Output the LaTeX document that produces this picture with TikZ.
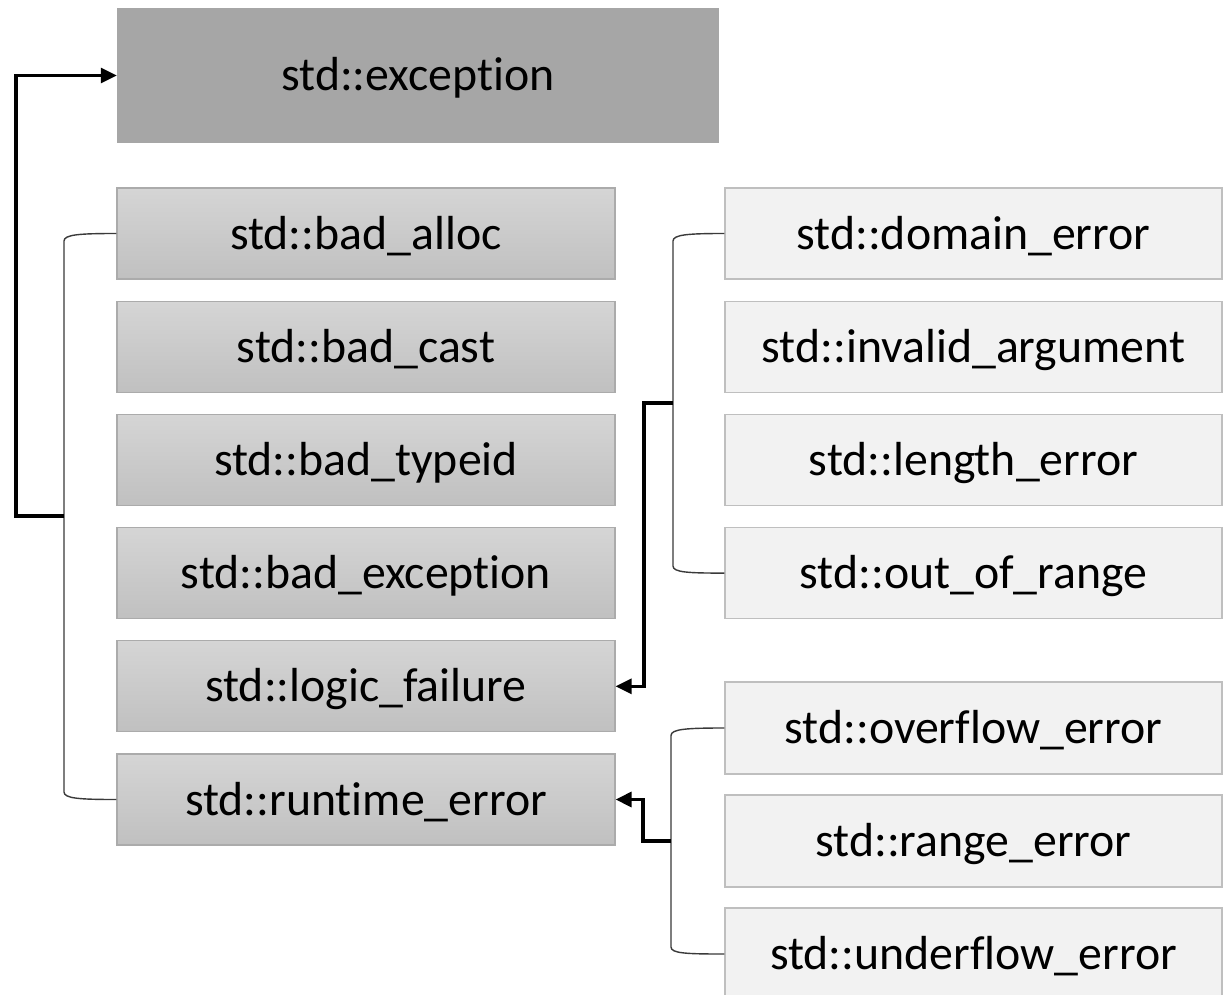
\documentclass[tikz,border=0pt]{standalone}
\usepackage{fontspec}
\setmainfont[RawFeature={-liga;-clig;-calt;-dlig}]{Carlito}
\usetikzlibrary{arrows.meta}
\definecolor{excfill}{HTML}{A6A6A6}
\definecolor{ltop}{HTML}{D5D5D5}
\definecolor{lbot}{HTML}{C0C0C0}
\definecolor{lborder}{HTML}{ABABAB}
\definecolor{rfill}{HTML}{F2F2F2}
\definecolor{rborder}{HTML}{BFBFBF}
\definecolor{brkcol}{HTML}{3A3A3A}
\newcommand{\nolig}{\kern0pt}
\tikzset{
  basebox/.style={rectangle, inner sep=0pt, text height=40pt, text depth=9pt,
    font=\fontsize{47.8}{57}\selectfont, text=black},
  excbox/.style={basebox, fill=excfill, minimum width=602pt, minimum height=135pt},
  lbox/.style={basebox, draw=lborder, line width=1.2pt, top color=ltop, bottom color=lbot,
    minimum width=498pt, minimum height=91pt},
  rbox/.style={basebox, draw=rborder, line width=1.2pt, fill=rfill,
    minimum width=497pt, minimum height=91pt},
  brk/.style={draw=brkcol, line width=1.4pt},
  conn/.style={draw=black, line width=3.1pt, -{Triangle[length=16pt,width=15pt]}},
}
\begin{document}
\begin{tikzpicture}[x=1pt,y=-1pt]
\useasboundingbox (0,0) rectangle (1226,995);
\clip (0,0) rectangle (1226,995);
\fill[white] (0,0) rectangle (1226,995);

\node[excbox] (exc) at (418,75.5) {std::except\nolig ion};

\node[lbox] (alloc)   at (366,233.5) {std::bad\_alloc};
\node[lbox] (cast)    at (366,346.7) {std::bad\_cast};
\node[lbox] (typeid)  at (366,459.9) {std::bad\_typeid};
\node[lbox] (badexc)  at (366,573.1) {std::bad\_except\nolig ion};
\node[lbox] (logic)   at (366,686.3) {std::logic\_failure};
\node[lbox] (runtime) at (366,799.5) {std::runt\nolig ime\_error};

\node[rbox] (domain)   at (973.5,233.5) {std::domain\_error};
\node[rbox] (invalid)  at (973.5,346.7) {std::invalid\_argument};
\node[rbox] (length)   at (973.5,459.9) {std::length\_error};
\node[rbox] (range)    at (973.5,573.1) {std::out\_of\_range};
\node[rbox, minimum height=92pt] (overflow)  at (973.5,728) {std::overf\nolig low\_error};
\node[rbox, minimum height=92pt] (rangeerr)  at (973.5,841) {std::range\_error};
\node[rbox, minimum height=92pt] (underflow) at (973.5,954) {std::underf\nolig low\_error};

% brackets
\draw[brk] (alloc.west) .. controls (80,233.5) and (64,234.5) .. (64,241)
  -- (64,792) .. controls (64,798.5) and (80,799.5) .. (runtime.west);
\draw[brk] (domain.west) .. controls (689,233.5) and (673,234.5) .. (673,241)
  -- (673,566) .. controls (673,572.5) and (689,573.1) .. (range.west);
\draw[brk] (overflow.west) .. controls (687,728) and (671,729) .. (671,735.5)
  -- (671,947) .. controls (671,953.5) and (687,954) .. (underflow.west);

% connectors
\coordinate (mb) at (64,516);
\coordinate (lb) at (673,403);
\coordinate (rb) at (671,841);
\draw[conn] (mb) -- ++(-48,0) |- (exc.west);
\draw[conn] (lb) -- ++(-29,0) |- (logic.east);
\draw[conn] (rb) -- ++(-28,0) |- (runtime.east);
\end{tikzpicture}
\end{document}
